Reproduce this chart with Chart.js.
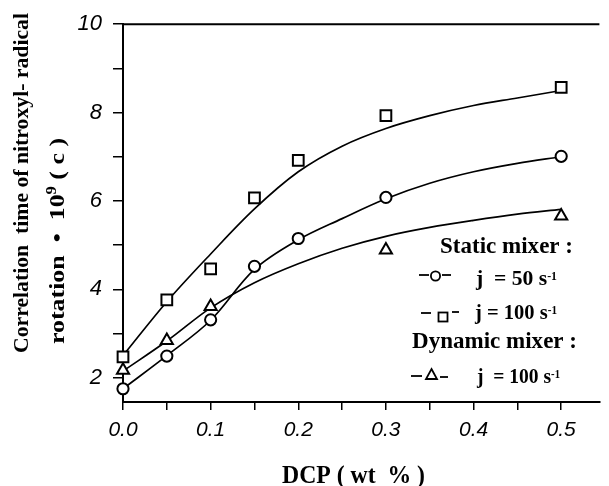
<!DOCTYPE html>
<html lang="en">
<head>
<meta charset="UTF-8">
<title>Correlation time vs DCP</title>
<script src="https://cdn.jsdelivr.net/npm/chart.js@4.4.1/dist/chart.umd.min.js"></script>
<style>
    html, body { margin: 0; padding: 0; background: #fff; }
    .chart-box { width: 609px; height: 486px; position: relative; }
</style>
</head>
<body>
<div class="chart-box"><canvas id="dcpChart" width="609" height="486"></canvas></div>
<script>
// measured points
const dcp = [0, 0.05, 0.1, 0.15, 0.2, 0.3, 0.5];
const static50 = [1.75, 2.49, 3.31, 4.52, 5.15, 6.08, 7.01];
const static100 = [2.47, 3.76, 4.46, 6.07, 6.92, 7.93, 8.57];
const dcpDynamic = [0, 0.05, 0.1, 0.3, 0.5];
const dynamic100 = [2.17, 2.84, 3.61, 4.89, 5.66];

// smooth curves as drawn in the figure
const curveDcp = [0, 0.05, 0.1, 0.15, 0.2, 0.25, 0.3, 0.35, 0.4, 0.45, 0.5];
const fit50 = [1.75, 2.5, 3.3, 4.45, 5.12, 5.6, 6.05, 6.4, 6.66, 6.85, 7.0];
const fit100 = [2.5, 3.72, 4.8, 5.82, 6.66, 7.24, 7.64, 7.93, 8.16, 8.33, 8.5];
const fitDynamic = [2.15, 2.83, 3.58, 4.15, 4.58, 4.93, 5.2, 5.4, 5.56, 5.7, 5.81];

const xTicks = [0, 0.05, 0.1, 0.15, 0.2, 0.25, 0.3, 0.35, 0.4, 0.45, 0.5];
const xTickLabels = ['0.0', '', '0.1', '', '0.2', '', '0.3', '', '0.4', '', '0.5'];
const yTicks = [2, 3, 4, 5, 6, 7, 8, 9, 10];
const yTickLabels = ['2', '', '4', '', '6', '', '8', '', '10'];

const serif = "'Liberation Serif', 'Times New Roman', serif";
const tickFont = { family: "'Liberation Sans', Arial, sans-serif", size: 21, style: 'italic' };

const pts = (xs, ys) => xs.map((x, i) => ({ x: x, y: ys[i] }));

// draw a row of text pieces, squeezed to a given width
function drawRuns(ctx, runs, left, baseline, width) {
    let total = 0;
    runs.forEach(r => { ctx.font = r.font; total += ctx.measureText(r.text).width; });
    const sx = width ? width / total : 1;
    ctx.save();
    ctx.translate(left, baseline);
    ctx.scale(sx, 1);
    let x = 0;
    runs.forEach(r => {
        ctx.font = r.font;
        ctx.fillText(r.text, x, r.dy || 0);
        x += ctx.measureText(r.text).width;
    });
    ctx.restore();
}

function dash(ctx, x1, x2, y) {
    ctx.beginPath();
    ctx.moveTo(x1, y);
    ctx.lineTo(x2, y);
    ctx.stroke();
}

const textPlugin = {
    id: 'figureText',
    afterDraw(chart) {
        const ctx = chart.ctx;
        const area = chart.chartArea;
        ctx.save();
        ctx.fillStyle = '#000';
        ctx.strokeStyle = '#000';
        ctx.textAlign = 'left';
        ctx.textBaseline = 'alphabetic';

        // frame top line
        ctx.lineWidth = 2;
        dash(ctx, area.left - 1, area.right, area.top);

        // y title, two lines
        const bold22 = 'bold 22px ' + serif;
        ctx.save();
        ctx.translate(28, 183);
        ctx.rotate(-Math.PI / 2);
        drawRuns(ctx, [{ text: 'Correlation  time of nitroxyl- radical', font: bold22 }], -170, 0, 340);
        ctx.restore();
        ctx.save();
        ctx.translate(64, 241);
        ctx.rotate(-Math.PI / 2);
        drawRuns(ctx, [
            { text: 'rotation  \u2022  10', font: bold22 },
            { text: '9', font: 'bold 14px ' + serif, dy: -8 },
            { text: ' ( c )', font: bold22 }
        ], -103, 0, 206);
        ctx.restore();

        // x title
        drawRuns(ctx, [{ text: 'DCP ( wt  % )', font: 'bold 25px ' + serif }], 282, 483, 143);

        // legend
        const big = 'bold 23px ' + serif;
        const mid = 'bold 22px ' + serif;
        const sup = 'bold 12px ' + serif;
        drawRuns(ctx, [{ text: 'Static mixer :', font: big }], 440, 253, 133);
        drawRuns(ctx, [{ text: 'j  = 50 s', font: mid }, { text: '-1', font: sup, dy: -5 }], 476, 285, 81);
        drawRuns(ctx, [{ text: 'j = 100 s', font: mid }, { text: '-1', font: sup, dy: -5 }], 475, 319, 82);
        drawRuns(ctx, [{ text: 'Dynamic mixer :', font: big }], 412, 348, 165);
        drawRuns(ctx, [{ text: 'j  = 100 s', font: mid }, { text: '-1', font: sup, dy: -5 }], 477, 383, 83);

        ctx.lineWidth = 1.8;
        dash(ctx, 419, 429, 275);
        dash(ctx, 442, 451, 275);
        ctx.beginPath();
        ctx.arc(435.5, 276, 4.6, 0, Math.PI * 2);
        ctx.stroke();

        dash(ctx, 421, 431, 313);
        dash(ctx, 452, 459, 312);
        ctx.strokeRect(438.5, 312.5, 9, 9);

        dash(ctx, 411, 422, 376);
        dash(ctx, 440, 448, 377);
        ctx.beginPath();
        ctx.moveTo(431.5, 369);
        ctx.lineTo(437, 379);
        ctx.lineTo(426, 379);
        ctx.closePath();
        ctx.stroke();

        ctx.restore();
    }
};

const markerBase = {
    showLine: false,
    borderColor: '#000',
    backgroundColor: '#fff',
    pointBorderWidth: 2,
    pointBackgroundColor: '#fff',
    pointBorderColor: '#000',
    clip: false,
    order: 0
};
const curveBase = {
    showLine: true,
    pointRadius: 0,
    borderColor: '#000',
    borderWidth: 1.7,
    tension: 0.35,
    fill: false,
    order: 1
};

new Chart(document.getElementById('dcpChart'), {
    type: 'scatter',
    data: {
        datasets: [
            { ...markerBase, label: 'Static mixer j = 50', data: pts(dcp, static50), pointStyle: 'circle', pointRadius: 5.6 },
            { ...markerBase, label: 'Static mixer j = 100', data: pts(dcp, static100), pointStyle: 'rect', pointRadius: 7.6 },
            { ...markerBase, label: 'Dynamic mixer j = 100', data: pts(dcpDynamic, dynamic100), pointStyle: 'triangle', pointRadius: 7 },
            { ...curveBase, label: 'curve 50', data: pts(curveDcp, fit50) },
            { ...curveBase, label: 'curve 100', data: pts(curveDcp, fit100) },
            { ...curveBase, label: 'curve dynamic', data: pts(curveDcp, fitDynamic) }
        ]
    },
    options: {
        responsive: false,
        animation: false,
        devicePixelRatio: 1,
        layout: { padding: { top: 20, left: 0, right: 0, bottom: 0 } },
        plugins: {
            legend: { display: false },
            tooltip: { enabled: false }
        },
        scales: {
            x: {
                type: 'linear',
                min: 0,
                max: 0.5436,
                grid: { drawOnChartArea: false, drawTicks: true, tickLength: 8, color: '#000', lineWidth: 1.5 },
                border: { display: true, color: '#000', width: 2 },
                ticks: {
                    color: '#000', font: tickFont, padding: 8, maxRotation: 0, autoSkip: false,
                    callback: (v, i) => xTickLabels[i]
                },
                afterBuildTicks: s => { s.ticks = xTicks.map(v => ({ value: v })); },
                afterFit: s => { s.height = 84; }
            },
            y: {
                type: 'linear',
                min: 1.45,
                max: 10,
                grid: { drawOnChartArea: false, drawTicks: true, tickLength: 10, color: '#000', lineWidth: 1.5 },
                border: { display: true, color: '#000', width: 2 },
                ticks: {
                    color: '#000', font: { ...tickFont, size: 22 }, padding: 11, autoSkip: false,
                    callback: (v, i) => yTickLabels[i]
                },
                afterBuildTicks: s => { s.ticks = yTicks.map(v => ({ value: v })); },
                afterFit: s => { s.width = 123; }
            }
        }
    },
    plugins: [textPlugin]
});
</script>
</body>
</html>
